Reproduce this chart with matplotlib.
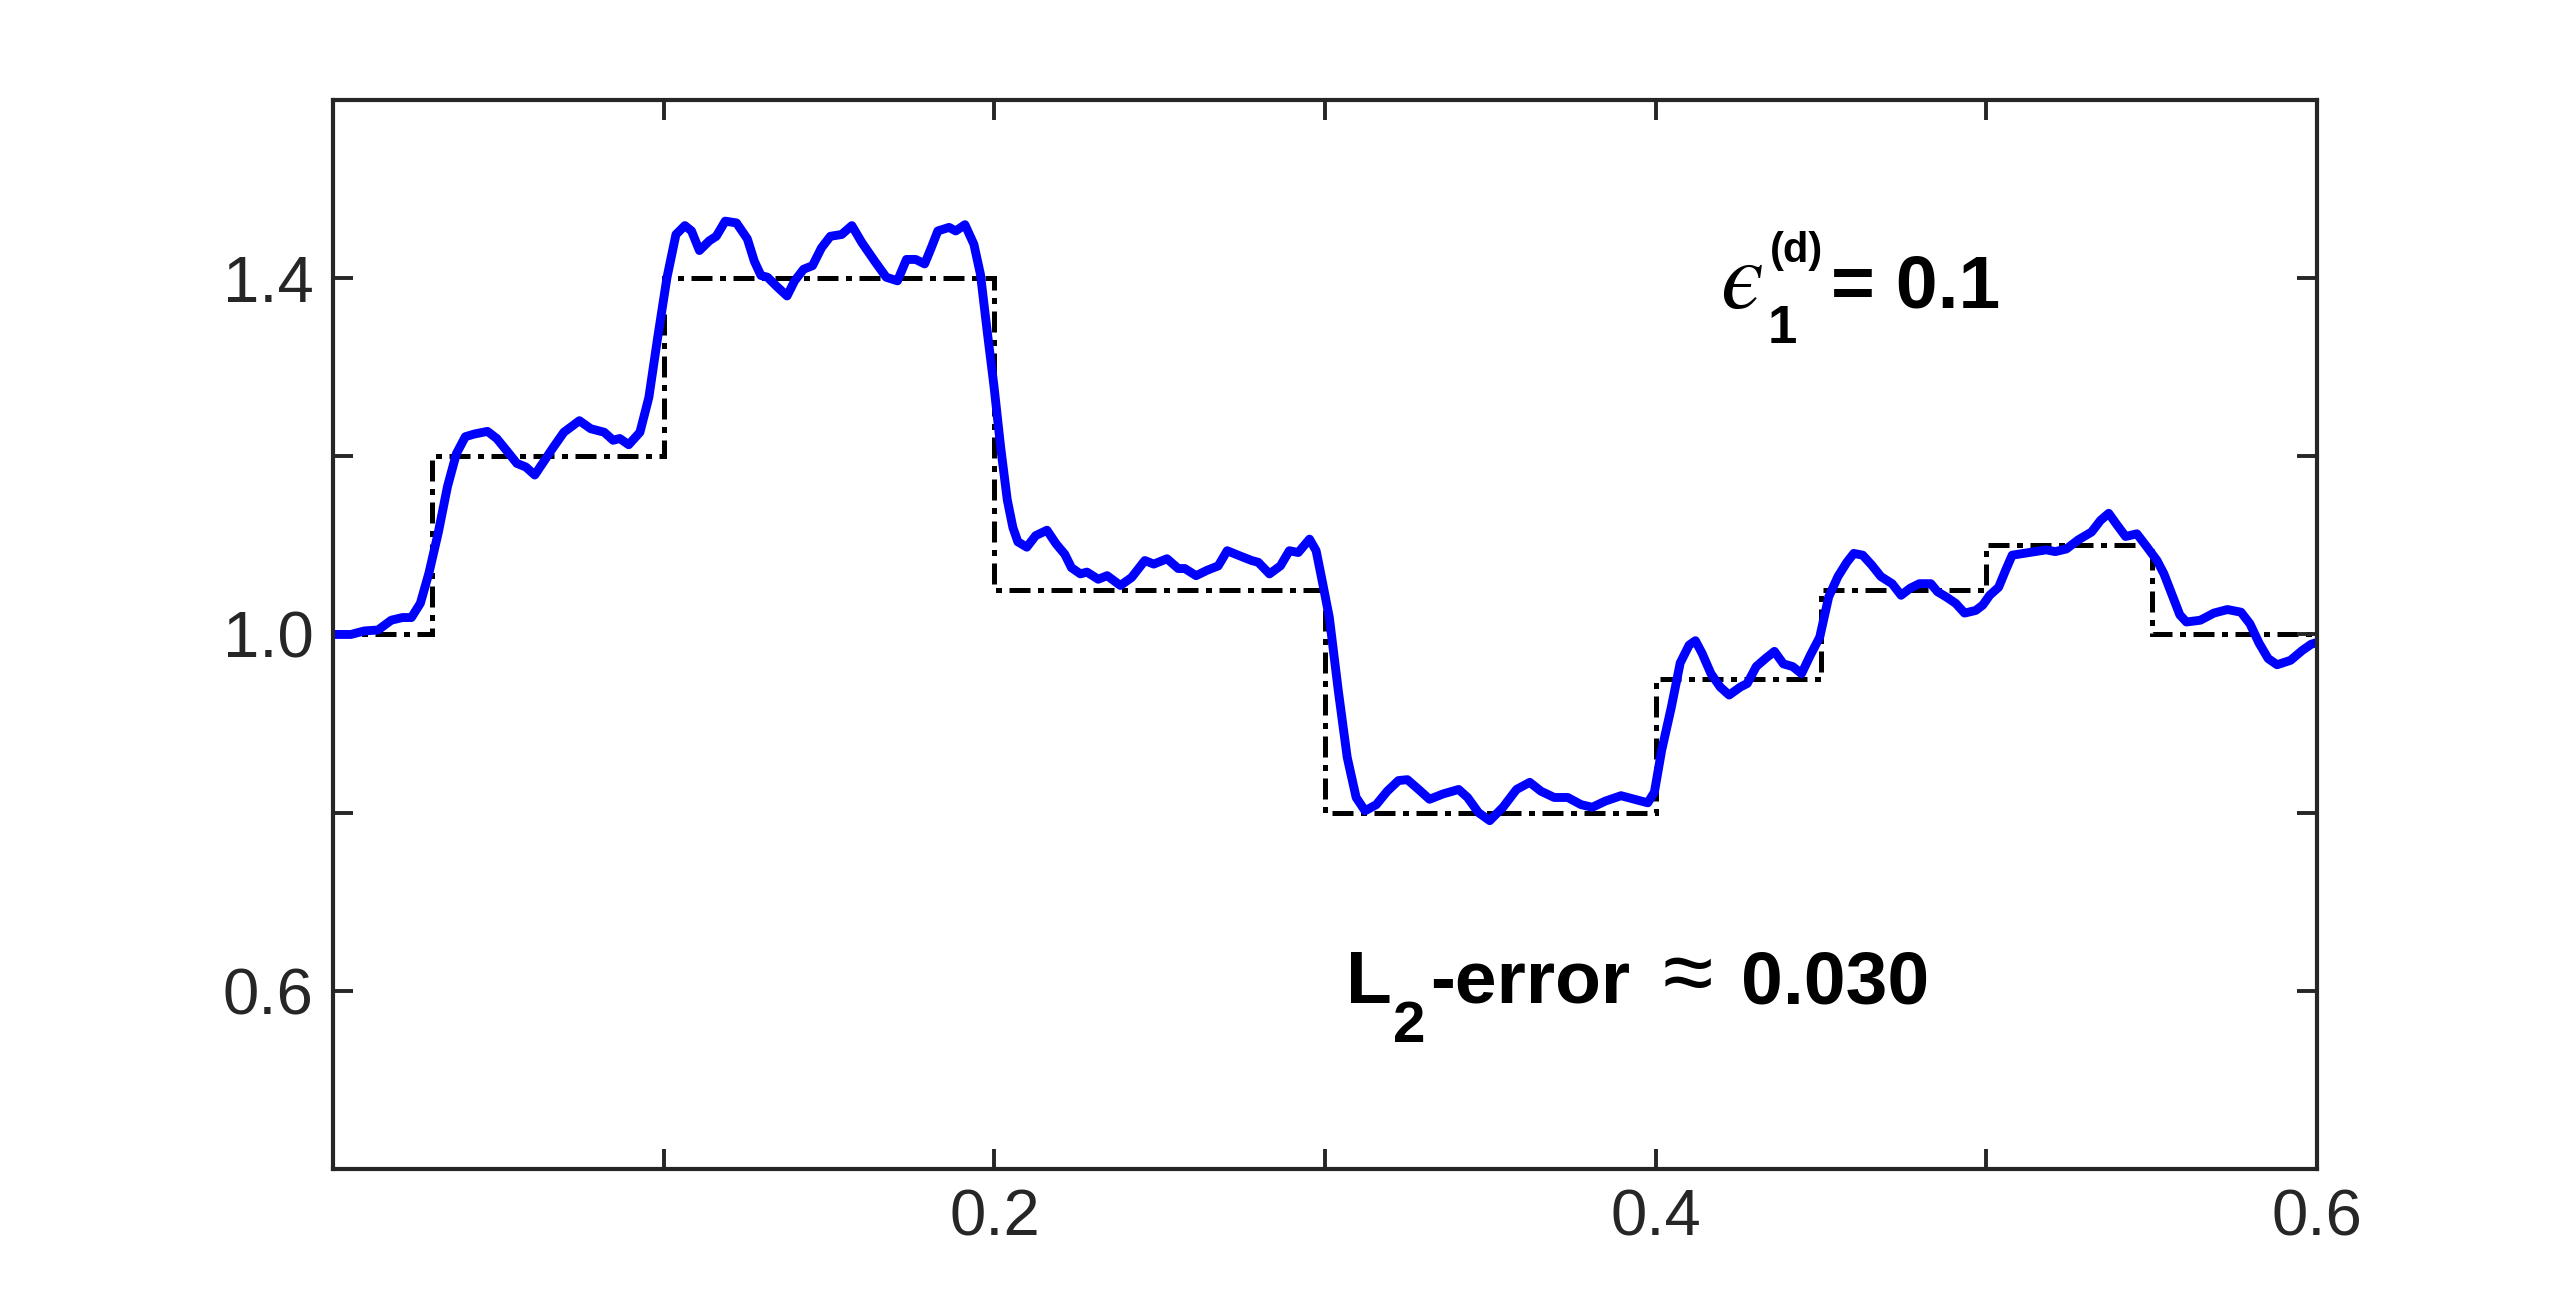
import numpy as np
import matplotlib
matplotlib.use("Agg")
import matplotlib.pyplot as plt

plt.rcParams['font.family'] = ['Liberation Sans', 'DejaVu Sans']
plt.rcParams['mathtext.fontset'] = 'custom'
plt.rcParams['mathtext.rm'] = 'Liberation Sans'
plt.rcParams['mathtext.it'] = 'STIXGeneral:italic'
plt.rcParams['mathtext.bf'] = 'Liberation Sans:bold'
plt.rcParams['mathtext.fallback'] = 'stix'

# exact piecewise-constant profile (dash-dot)
step_edges = [0.0, 0.03, 0.1, 0.2, 0.3, 0.4, 0.45, 0.5, 0.55, 0.6]
step_vals = [1.0, 1.2, 1.4, 1.05, 0.8, 0.95, 1.05, 1.1, 1.0]

# reconstructed profile (blue)
rec_x = [0.000, 0.0054, 0.0095, 0.0136, 0.0176, 0.021, 0.0237, 0.0264, 0.029, 0.0318,
         0.0346, 0.0373, 0.040, 0.0427, 0.0467, 0.0495, 0.0528, 0.0556, 0.0583, 0.061,
         0.0637, 0.0664, 0.0698, 0.0745, 0.0779, 0.082, 0.0847, 0.0867, 0.0894, 0.0928,
         0.0955, 0.0982, 0.101, 0.1037, 0.1064, 0.1084, 0.1108, 0.1138, 0.1159, 0.1186,
         0.122, 0.1253, 0.1274, 0.1294, 0.1314, 0.1341, 0.1373, 0.1396, 0.1423, 0.145,
         0.1477, 0.1504, 0.1538, 0.1569, 0.1599, 0.164, 0.1673, 0.1707, 0.1734, 0.1762,
         0.1789, 0.1809, 0.1829, 0.1863, 0.1883, 0.1911, 0.1938, 0.1958, 0.1978, 0.1999,
         0.2019, 0.2039, 0.2056, 0.2071, 0.2098, 0.2125, 0.2159, 0.2186, 0.2213, 0.2233,
         0.226, 0.228, 0.2314, 0.2341, 0.2381, 0.2415, 0.2455, 0.2482, 0.2522, 0.2556,
         0.2576, 0.261, 0.2643, 0.2677, 0.2704, 0.2737, 0.2778, 0.2798, 0.2832, 0.2865,
         0.2892, 0.2919, 0.2953, 0.2973, 0.2993, 0.3013, 0.304, 0.3067, 0.3094, 0.3121,
         0.3155, 0.3188, 0.3222, 0.3249, 0.3283, 0.3316, 0.3357, 0.3404, 0.3431, 0.3464,
         0.3498, 0.3538, 0.3579, 0.3619, 0.3653, 0.3693, 0.3734, 0.3774, 0.3808, 0.3848,
         0.3895, 0.3936, 0.3976, 0.3996, 0.4018, 0.4047, 0.4074, 0.4101, 0.412, 0.414,
         0.4167, 0.4195, 0.4222, 0.4256, 0.4277, 0.4304, 0.4332, 0.4359, 0.4386, 0.4414,
         0.4441, 0.4468, 0.4496, 0.4523, 0.4551, 0.4578, 0.4599, 0.4626, 0.4653, 0.4681,
         0.4715, 0.4742, 0.477, 0.4797, 0.4832, 0.4852, 0.4879, 0.4907, 0.4934, 0.4968,
         0.4989, 0.501, 0.5037, 0.5058, 0.5078, 0.5112, 0.5147, 0.5181, 0.5208, 0.5242,
         0.5277, 0.5318, 0.5345, 0.537, 0.5393, 0.5421, 0.5455, 0.5482, 0.5516, 0.5537,
         0.5564, 0.5585, 0.5605, 0.5647, 0.5688, 0.5729, 0.577, 0.5797, 0.5825, 0.5852,
         0.5879, 0.592, 0.5955, 0.5982, 0.600]
rec_y = [1.000, 1.000, 1.004, 1.005, 1.016, 1.019, 1.019, 1.035, 1.069, 1.114,
         1.166, 1.203, 1.222, 1.225, 1.228, 1.220, 1.205, 1.192, 1.188, 1.179,
         1.194, 1.209, 1.227, 1.240, 1.231, 1.227, 1.218, 1.220, 1.213, 1.227,
         1.266, 1.334, 1.401, 1.449, 1.459, 1.453, 1.431, 1.442, 1.447, 1.464,
         1.462, 1.444, 1.419, 1.403, 1.401, 1.391, 1.380, 1.397, 1.410, 1.414,
         1.434, 1.447, 1.449, 1.459, 1.440, 1.418, 1.401, 1.397, 1.421, 1.421,
         1.416, 1.434, 1.453, 1.457, 1.453, 1.460, 1.438, 1.404, 1.341, 1.278,
         1.210, 1.151, 1.120, 1.104, 1.098, 1.111, 1.117, 1.102, 1.090, 1.075,
         1.068, 1.070, 1.062, 1.066, 1.055, 1.064, 1.083, 1.079, 1.085, 1.074,
         1.074, 1.066, 1.072, 1.077, 1.094, 1.089, 1.083, 1.081, 1.068, 1.077,
         1.094, 1.092, 1.107, 1.094, 1.057, 1.019, 0.937, 0.862, 0.817, 0.802,
         0.809, 0.824, 0.836, 0.837, 0.826, 0.815, 0.821, 0.826, 0.817, 0.800,
         0.791, 0.806, 0.826, 0.834, 0.824, 0.817, 0.817, 0.809, 0.806, 0.813,
         0.819, 0.815, 0.811, 0.823, 0.870, 0.918, 0.968, 0.988, 0.993, 0.979,
         0.956, 0.941, 0.932, 0.941, 0.945, 0.964, 0.973, 0.981, 0.967, 0.964,
         0.956, 0.977, 0.997, 1.042, 1.065, 1.081, 1.091, 1.089, 1.078, 1.065,
         1.057, 1.044, 1.052, 1.057, 1.057, 1.048, 1.042, 1.035, 1.024, 1.027,
         1.033, 1.044, 1.053, 1.072, 1.089, 1.091, 1.093, 1.095, 1.093, 1.096,
         1.106, 1.115, 1.128, 1.136, 1.124, 1.110, 1.113, 1.100, 1.083, 1.068,
         1.042, 1.022, 1.014, 1.016, 1.024, 1.028, 1.025, 1.012, 0.990, 0.973,
         0.966, 0.971, 0.982, 0.989, 0.991]

xticks = [0.1, 0.2, 0.3, 0.4, 0.5, 0.6]
xticklabels = ['', '0.2', '', '0.4', '', '0.6']
yticks = [0.6, 0.8, 1.0, 1.2, 1.4]
yticklabels = ['0.6', '', '1.0', '', '1.4']

axcol = '#262626'

fig = plt.figure(figsize=(12.8, 6.57), dpi=200)
ax = fig.add_axes([0.1301, 0.1104, 0.775, 0.8135])

ax.stairs(step_vals, step_edges, baseline=None, color='black',
          linewidth=1.8, linestyle=(0, (4.2, 1.5, 1.2, 1.5)))
ax.plot(rec_x, rec_y, color='#0000ff', linewidth=3.2,
        solid_joinstyle='round', solid_capstyle='round')

ax.set_xlim(0, 0.6)
ax.set_ylim(0.4, 1.6)
ax.set_xticks(xticks)
ax.set_xticklabels(xticklabels)
ax.set_yticks(yticks)
ax.set_yticklabels(yticklabels)
ax.tick_params(direction='in', length=7.2, width=1.4, top=True, right=True,
               labelsize=23.5, colors=axcol, pad=7)
for s in ax.spines.values():
    s.set_linewidth(1.5)
    s.set_color(axcol)

# epsilon_1^(d) = 0.1, built from pieces like the MATLAB tex label
ax.text(0.4195, 1.3665, r'$ϵ$', fontsize=35, ha='left', va='baseline')
ax.text(0.4346, 1.4181, '(d)', fontsize=15, fontweight='bold', ha='left', va='baseline')
ax.text(0.4337, 1.3272, '1', fontsize=19, fontweight='bold', ha='left', va='baseline')
ax.text(0.4530, 1.3665, '= 0.1', fontsize=27, fontweight='bold', ha='left', va='baseline')

# L_2-error ~ 0.030
ax.text(0.3064, 0.586, 'L', fontsize=27, fontweight='bold', ha='left', va='baseline')
ax.text(0.3206, 0.5426, '2', fontsize=21, fontweight='bold', ha='left', va='baseline')
ax.text(0.3318, 0.586, '-error', fontsize=27, fontweight='bold', ha='left', va='baseline')
ax.text(0.4021, 0.586, '\u2248', fontsize=33, ha='left', va='baseline')
ax.text(0.4258, 0.586, '0.030', fontsize=27, fontweight='bold', ha='left', va='baseline')

fig.savefig('out.png', dpi=200)
